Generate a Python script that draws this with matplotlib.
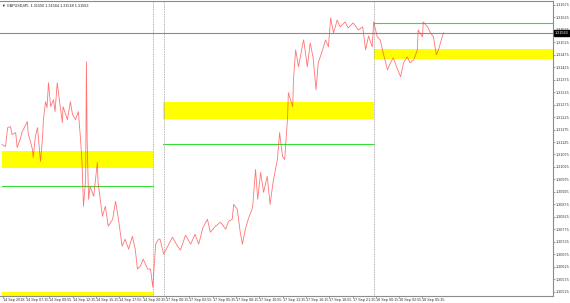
import matplotlib
matplotlib.use("Agg")
import matplotlib.pyplot as plt
from matplotlib.patches import Rectangle

plt.rcParams["font.family"] = ["Liberation Sans", "DejaVu Sans"]

# ---- data ----
bar_index = [2, 7, 10, 14, 16, 21, 23, 27, 30, 37, 38, 44, 45, 48, 51, 55, 58, 59, 62, 64, 66, 69, 73, 75, 78, 80,
             85, 86, 92, 96, 99, 103, 107, 110, 112, 114, 117, 118, 119, 121, 123, 128, 133, 134, 140, 144, 148, 154,
             158, 162, 167, 171, 176, 181, 185, 188, 192, 196, 202, 206, 209,
             213, 217, 219, 224, 229, 236, 243, 247, 254, 261, 267, 272, 278, 284, 288, 295, 302, 309, 313, 318, 320,
             325, 329, 332, 336, 340, 346, 350, 353, 357, 361, 366, 370, 374, 380, 383, 387, 390, 394, 395, 401, 402,
             405, 409, 414, 416, 421, 425, 429, 433, 436, 442, 446, 450, 453, 457, 462, 466, 473, 477, 484, 491, 497,
             501, 505, 510, 512, 517, 521, 525, 531, 535, 539, 545, 549, 553, 558, 562, 567, 572, 573, 579, 580, 586,
             590, 594, 598, 601, 606, 608]
price = [1.31115, 1.31107, 1.31183, 1.31187, 1.31155, 1.31163, 1.31103, 1.31135, 1.31167, 1.31207, 1.31163, 1.31095,
         1.31063, 1.31147, 1.31183, 1.31047, 1.31147, 1.31215, 1.31287, 1.31263, 1.31363, 1.31267, 1.31295, 1.31247,
         1.31363, 1.31315, 1.31203, 1.31267, 1.31215, 1.31287, 1.31235, 1.31215, 1.31247, 1.31135, 1.31043, 1.30867,
         1.30975, 1.31447, 1.31135, 1.30895, 1.30947, 1.30907, 1.31043, 1.30963, 1.30827, 1.30867, 1.30787, 1.30815,
         1.30887, 1.30815, 1.30707, 1.30735, 1.30695, 1.30747, 1.30695, 1.30615, 1.30627, 1.30655, 1.30615, 1.30615,
         1.30543,
         1.30715, 1.30735, 1.30735, 1.30675, 1.30703, 1.30743, 1.30707, 1.30691, 1.30751, 1.30715, 1.30755, 1.30715,
         1.30783, 1.30815, 1.30763, 1.30787, 1.30803, 1.30775, 1.30807, 1.30815, 1.30875, 1.30855, 1.30763, 1.30715,
         1.30775, 1.30815, 1.30863, 1.31015, 1.30895, 1.31003, 1.30923, 1.30987, 1.30875, 1.30963, 1.31055, 1.31163,
         1.31067, 1.31055, 1.31227, 1.31323, 1.31267, 1.31375, 1.31495, 1.31427, 1.31507, 1.31535, 1.31427, 1.31523,
         1.31463, 1.31335, 1.31443, 1.31495, 1.31535, 1.31507, 1.31623, 1.31563, 1.31615, 1.31587, 1.31607, 1.31583,
         1.31603, 1.31575, 1.31587, 1.31495, 1.31551, 1.31507, 1.31607, 1.31547, 1.31535, 1.31483, 1.31415, 1.31443,
         1.31463, 1.31415, 1.31387, 1.31443, 1.31467, 1.31443, 1.31455, 1.31495, 1.31575, 1.31547, 1.31607, 1.31587,
         1.31563, 1.31547, 1.31475, 1.31495, 1.31547, 1.31563]

# zones: (start bar, end bar, low price, high price)
zone_start = [2, 223, 512, 2]
zone_end = [209, 512, 760, 209]
zone_low = [1.31019, 1.31219, 1.31459, 1.30480]
zone_high = [1.31087, 1.31287, 1.31499, 1.30524]

level_start = [2, 223, 512]
level_end = [209, 512, 760]
level_price = [1.30947, 1.31118, 1.31602]

separators = [210, 224, 512]
current_price = 1.31563

xtick_pos = [3 + 32 * k for k in range(19)]
xtick_labels = ["14 Sep 2018", "14 Sep 07:15", "14 Sep 09:55", "14 Sep 12:35", "14 Sep 15:15", "14 Sep 17:55",
                "14 Sep 20:35", "17 Sep 00:15", "17 Sep 02:55", "17 Sep 05:35", "17 Sep 08:15", "17 Sep 10:55",
                "17 Sep 13:35", "17 Sep 16:15", "17 Sep 18:55", "17 Sep 21:35", "18 Sep 00:15", "18 Sep 02:55",
                "18 Sep 05:35"]
ytick_vals = [1.30525 + 0.0005 * k for k in range(24)]

FS = 2.7

# ---- figure ----
fig = plt.figure(figsize=(5.7, 3.03), dpi=100)
ax = fig.add_axes([0.0, 7 / 303, 553 / 570, 295 / 303])
ax.set_facecolor("white")

for s, e, lo, hi in zip(zone_start, zone_end, zone_low, zone_high):
    ax.add_patch(Rectangle((s, lo), e - s, hi - lo, facecolor="#ffff00", edgecolor="none", zorder=1))
for s, e, p in zip(level_start, level_end, level_price):
    ax.plot([s, e], [p, p], color="#33e033", lw=0.8, zorder=2)
ax.axhline(current_price, color="#8c8c8c", lw=0.8, zorder=2)
for sx in separators:
    ax.axvline(sx, color="#9a9a9a", lw=0.6, ls=(0, (1, 1)), zorder=2)

ax.plot(bar_index, price, color="#ff3a3a", lw=0.6, alpha=0.7, zorder=3)

ax.set_xlim(-0.5, 758)
ax.set_ylim(1.30507, 1.31691)

ax.yaxis.tick_right()
ax.set_yticks(ytick_vals)
ax.set_yticklabels([f"{v:.5f}" for v in ytick_vals], fontsize=FS, color="#333333")
ax.set_xticks(xtick_pos)
ax.set_xticklabels(xtick_labels, fontsize=FS, color="#333333", ha="left")
ax.tick_params(axis="both", length=1.2, width=0.5, color="#777777", pad=0.5)
for sp in ["top", "right", "bottom"]:
    ax.spines[sp].set_color("#8c8c8c")
    ax.spines[sp].set_linewidth(0.8)
ax.spines["left"].set_visible(False)

# current price tag
ax.text(1.003, current_price, "1.31563", transform=ax.get_yaxis_transform(), fontsize=FS, color="white",
        va="center", ha="left", zorder=5,
        bbox=dict(boxstyle="square,pad=0.2", facecolor="black", edgecolor="black"))

# header text
ax.text(0.004, 0.99, "\u25bc GBPUSD,M5  1.31550 1.31564 1.31548 1.31563", transform=ax.transAxes,
        fontsize=FS, color="#222222", va="top", ha="left")

fig.savefig("out.png", dpi=100)
